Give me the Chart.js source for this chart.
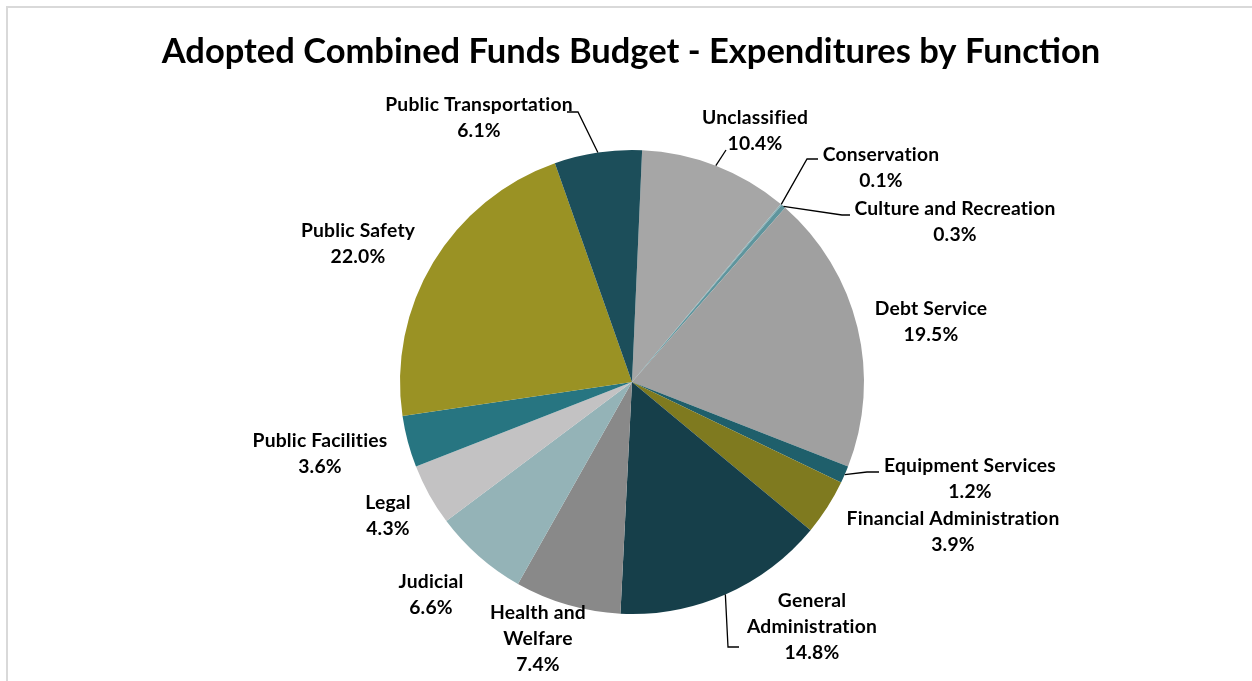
<!DOCTYPE html>
<html>
<head>
<meta charset="utf-8">
<title>Adopted Combined Funds Budget - Expenditures by Function</title>
<script src="https://cdn.jsdelivr.net/npm/chart.js@4.4.1/dist/chart.umd.min.js"></script>
<style>
  html, body { margin: 0; padding: 0; background: #fff; }
  #wrap { width: 1252px; height: 681px; }
</style>
</head>
<body>
<div id="wrap"><canvas id="chart" width="1252" height="681"></canvas></div>
<script>
// Budget share by function, clockwise from 12 o'clock
const categories = [
  'Unclassified', 'Conservation', 'Culture and Recreation', 'Debt Service',
  'Equipment Services', 'Financial Administration', 'General Administration',
  'Health and Welfare', 'Judicial', 'Legal', 'Public Facilities',
  'Public Safety', 'Public Transportation'
];
const percentages = [10.4, 0.1, 0.3, 19.5, 1.2, 3.9, 14.8, 7.4, 6.6, 4.3, 3.6, 22.0, 6.1];

const chartTitle = 'Adopted Combined Funds Budget - Expenditures by Function';

const sliceColors = [
  '#a6a6a6', '#8db2b8', '#5f959d', '#a0a0a0',
  '#1f5f6b', '#7f7a1f', '#163f4a',
  '#898989', '#94b3b7', '#c3c2c3', '#277581',
  '#9a9224', '#1c4e5a'
];

// how each callout wraps
const labelLines = categories.map(name => {
  if (name === 'Health and Welfare') return ['Health and', 'Welfare'];
  if (name === 'General Administration') return ['General', 'Administration'];
  return [name];
});

// callout text position and leader bends, relative to the pie centre
const placements = [
  { dx: 123, dy: -265, leader: [[94, -232]] },
  { dx: 249, dy: -228, leader: [[175, -223], [186, -223]] },
  { dx: 323, dy: -174, leader: [[210, -167], [218, -167]] },
  { dx: 299, dy: -74 },
  { dx: 338, dy: 83, leader: [[235, 90], [247, 90]] },
  { dx: 321, dy: 136 },
  { dx: 180, dy: 218, leader: [[96, 265], [107, 265]] },
  { dx: -94, dy: 230 },
  { dx: -201, dy: 199 },
  { dx: -244, dy: 120 },
  { dx: -312, dy: 58 },
  { dx: -274, dy: -152 },
  { dx: -153, dy: -278, leader: [[-54, -270], [-65, -270]] }
];

const LABEL_FONT = 19.3;
const LINE_GAP = 26;
const TITLE_FONT = 34.5;

const framePlugin = {
  id: 'frame',
  beforeDraw(chart) {
    const { ctx, width, height } = chart;
    ctx.save();
    ctx.fillStyle = '#fff';
    ctx.fillRect(0, 0, width, height);
    ctx.strokeStyle = '#d9d9d9';
    ctx.lineWidth = 2;
    ctx.beginPath();
    ctx.moveTo(7, height);
    ctx.lineTo(7, 7);
    ctx.lineTo(width, 7);
    ctx.stroke();
    // title spans the whole frame, centred over the pie
    ctx.fillStyle = '#000';
    ctx.font = `bold ${TITLE_FONT}px Lato`;
    ctx.textAlign = 'center';
    ctx.textBaseline = 'alphabetic';
    ctx.fillText(chartTitle, 631, 63);
    ctx.restore();
  }
};

const calloutPlugin = {
  id: 'callouts',
  afterDatasetsDraw(chart) {
    const ctx = chart.ctx;
    const arcs = chart.getDatasetMeta(0).data;
    const values = chart.data.datasets[0].data;
    ctx.save();
    ctx.font = `bold ${LABEL_FONT}px Lato`;
    // keep Lato from joining "ti" into a ligature
    if ('textRendering' in ctx) ctx.textRendering = 'optimizeSpeed';
    if ('letterSpacing' in ctx) ctx.letterSpacing = '0.2px';
    ctx.fillStyle = '#000';
    ctx.strokeStyle = '#000';
    ctx.lineWidth = 1.3;
    ctx.textAlign = 'center';
    ctx.textBaseline = 'alphabetic';
    arcs.forEach((arc, i) => {
      const p = placements[i];
      const cx = arc.x, cy = arc.y;
      if (p.leader) {
        const mid = (arc.startAngle + arc.endAngle) / 2;
        ctx.beginPath();
        ctx.moveTo(cx + Math.cos(mid) * arc.outerRadius, cy + Math.sin(mid) * arc.outerRadius);
        p.leader.forEach(([x, y]) => ctx.lineTo(cx + x, cy + y));
        ctx.stroke();
      }
      const lines = labelLines[i].concat(values[i].toFixed(1) + '%');
      lines.forEach((t, k) => {
        ctx.fillText(t, cx + p.dx, cy + p.dy + k * LINE_GAP + LABEL_FONT * 0.36);
      });
    });
    ctx.restore();
  }
};

new Chart(document.getElementById('chart'), {
  type: 'pie',
  data: {
    labels: categories,
    datasets: [{
      data: percentages,
      backgroundColor: sliceColors,
      borderWidth: 0,
      hoverOffset: 0,
      offset: 0
    }]
  },
  options: {
    responsive: false,
    animation: false,
    rotation: 2.5,
    layout: { padding: { top: 150, left: 400, right: 388, bottom: 67 } },
    plugins: {
      legend: { display: false },
      tooltip: { enabled: false },
      title: { display: false }
    }
  },
  plugins: [framePlugin, calloutPlugin]
});
</script>
</body>
</html>
